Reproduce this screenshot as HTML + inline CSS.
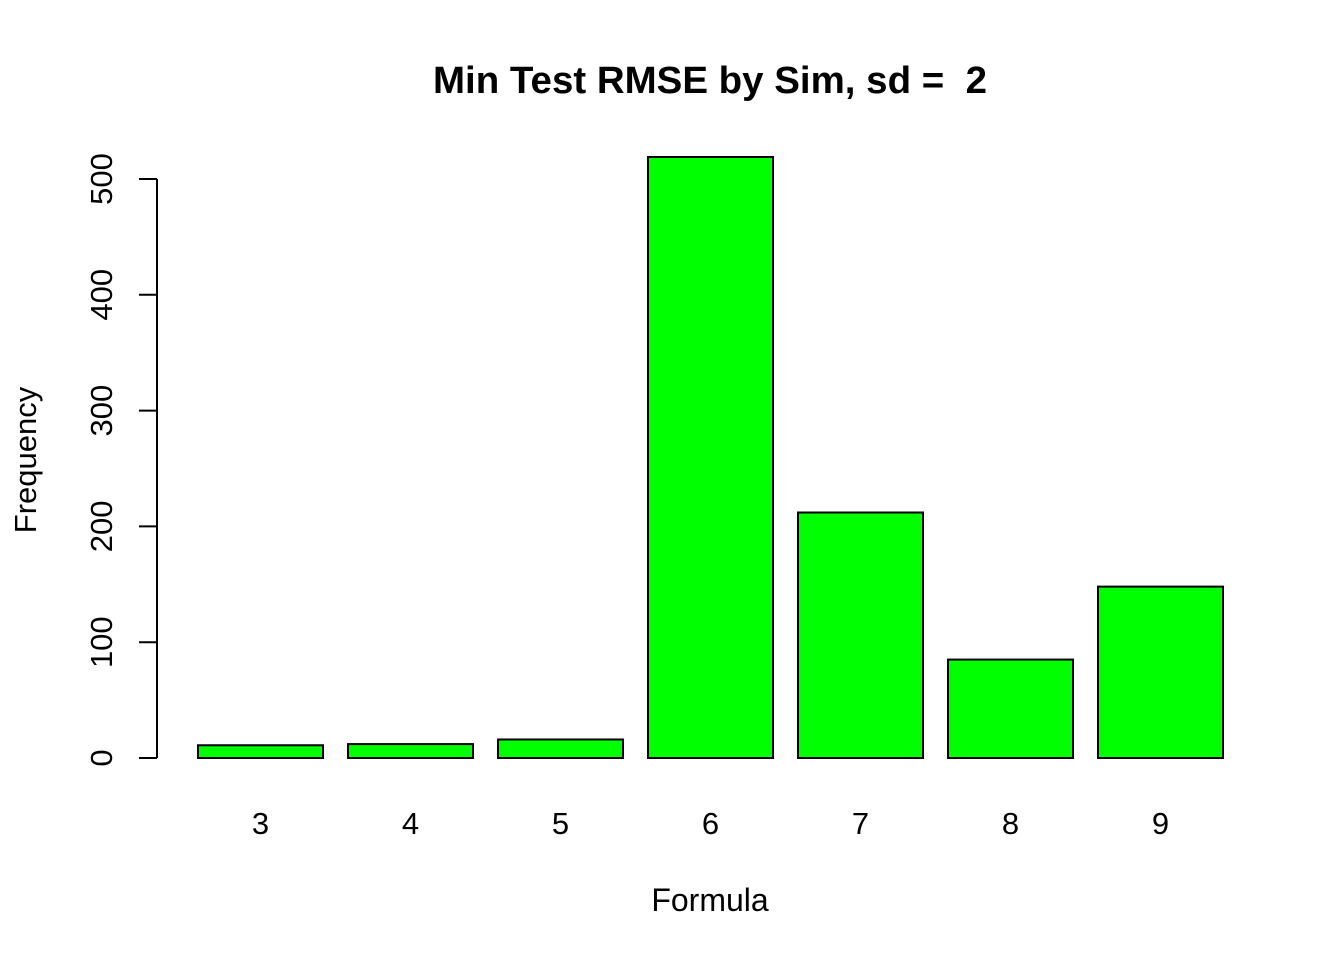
<!DOCTYPE html>
<html><head><meta charset="utf-8"><style>
body{margin:0;background:#fff;}
svg{display:block;font-family:"Liberation Sans",Arial,sans-serif;}
</style></head><body>
<svg id="chart" width="1344" height="960">
<text x="710" y="93" text-anchor="middle" font-size="38" font-weight="bold" textLength="554" lengthAdjust="spacingAndGlyphs" style="white-space:pre">Min Test RMSE by Sim, sd =&#160;&#160;2</text>
<text x="710" y="911" text-anchor="middle" font-size="32">Formula</text>
<text transform="translate(36,460) rotate(-90)" text-anchor="middle" font-size="31">Frequency</text>
<g id="bars"></g><g id="yaxis"></g><g id="xlabels"></g>
</svg>
<script>
const categories = ["3","4","5","6","7","8","9"];
const values = [11, 12, 16, 519, 212, 85, 148];
const yTicks = [0, 100, 200, 300, 400, 500];
const NS = "http://www.w3.org/2000/svg";
function y(v){ return 758 - v * 1.158; }
function x(u){ return 173 + u * 125; }
const bars = document.getElementById('bars');
const xl = document.getElementById('xlabels');
categories.forEach((c, i) => {
  const left = x(0.2 + i * 1.2);
  const r = document.createElementNS(NS, 'rect');
  r.setAttribute('x', left); r.setAttribute('y', y(values[i]));
  r.setAttribute('width', 125); r.setAttribute('height', y(0) - y(values[i]));
  r.setAttribute('fill', '#00ff00'); r.setAttribute('stroke', '#000'); r.setAttribute('stroke-width', 2);
  
  
  bars.appendChild(r);
  const t = document.createElementNS(NS, 'text');
  t.setAttribute('x', left + 62.5); t.setAttribute('y', 834);
  t.setAttribute('text-anchor', 'middle'); t.setAttribute('font-size', 31);
  t.textContent = c;
  
  
  xl.appendChild(t);
});
const ya = document.getElementById('yaxis');
const ax = document.createElementNS(NS, 'line');
ax.setAttribute('x1', 157); ax.setAttribute('x2', 157);
ax.setAttribute('y1', y(yTicks[0])); ax.setAttribute('y2', y(yTicks[yTicks.length-1]));
ax.setAttribute('stroke', '#000'); ax.setAttribute('stroke-width', 2);


ya.appendChild(ax);
yTicks.forEach(v => {
  const l = document.createElementNS(NS, 'line');
  l.setAttribute('x1', 139); l.setAttribute('x2', 157);
  l.setAttribute('y1', y(v)); l.setAttribute('y2', y(v));
  l.setAttribute('stroke', '#000'); l.setAttribute('stroke-width', 2);
  
  
  ya.appendChild(l);
  const t = document.createElementNS(NS, 'text');
  t.setAttribute('transform', 'translate(112,' + y(v) + ') rotate(-90)');
  t.setAttribute('text-anchor', 'middle'); t.setAttribute('font-size', 31);
  t.textContent = v;
  
  
  ya.appendChild(t);
});
</script>
</body></html>
